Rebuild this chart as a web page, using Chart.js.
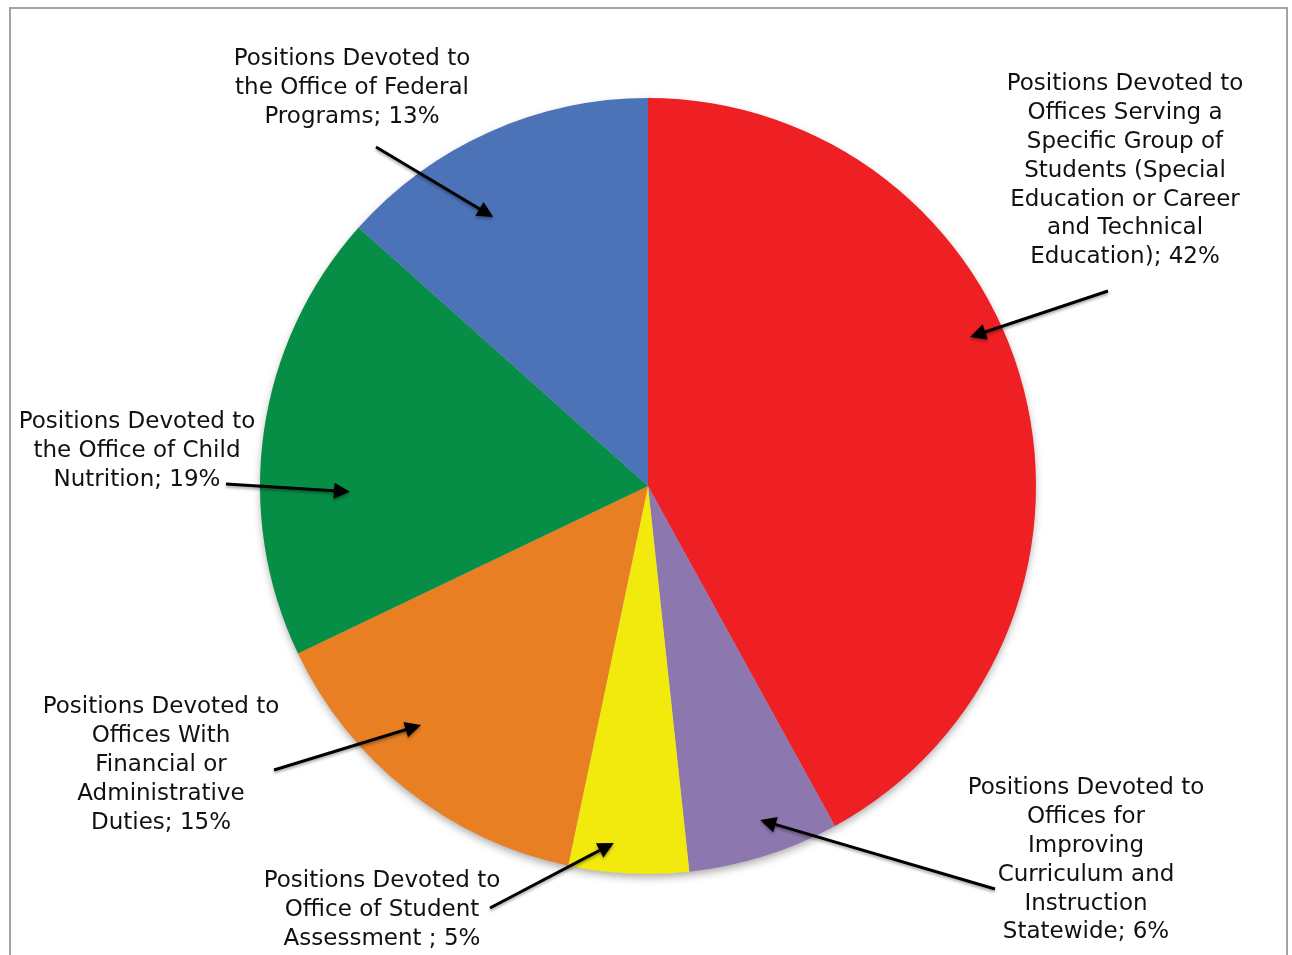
<!DOCTYPE html>
<html lang="en">
<head>
<meta charset="UTF-8">
<title>Positions by Office</title>
<script src="https://cdn.jsdelivr.net/npm/chart.js"></script>
<style>
    html, body { margin: 0; padding: 0; background: #fff; overflow: hidden; }
    #wrap { position: relative; width: 1292px; height: 955px; }
    #frame {
        position: absolute; left: 9px; top: 7px; width: 1279px; height: 1000px;
        border: 2px solid #a3a3a3; box-sizing: border-box; pointer-events: none;
    }
    canvas { position: absolute; left: 0; top: 0; }
</style>
</head>
<body>
<div id="wrap">
    <canvas id="pie" width="1292" height="955"></canvas>
    <div id="frame"></div>
</div>
<script>
// slice data, clockwise from 12 o'clock
const sliceLabels = [
    ['Positions Devoted to', 'Offices Serving a', 'Specific Group of', 'Students (Special', 'Education or Career', 'and Technical', 'Education); 42%'],
    ['Positions Devoted to', 'Offices for', 'Improving', 'Curriculum and', 'Instruction', 'Statewide; 6%'],
    ['Positions Devoted to', 'Office of Student', 'Assessment ; 5%'],
    ['Positions Devoted to', 'Offices With', 'Financial or', 'Administrative', 'Duties; 15%'],
    ['Positions Devoted to', 'the Office of Child', 'Nutrition; 19%'],
    ['Positions Devoted to', 'the Office of Federal', 'Programs; 13%']
];
// shares as drawn (labels carry the rounded figures)
const shares = [42.0, 6.3, 5.0, 14.6, 18.7, 13.4];
const sliceColors = ['#ee2024', '#8d77af', '#f2ea0c', '#e97f23', '#078e46', '#4c72b8'];

// where each callout sits: text centre (x, first line y), arrow tail,
// arrow tip as a fraction of the radius from the pie centre
const callouts = [
    { tx: 1125, ty: 82,  tail: [1108, 291], tip: [0.830, -0.384] },
    { tx: 1086, ty: 786, tail: [995, 889],  tip: [0.289, 0.861] },
    { tx: 382,  ty: 879, tail: [490, 908],  tip: [-0.088, 0.920] },
    { tx: 161,  ty: 705, tail: [274, 770],  tip: [-0.585, 0.616] },
    { tx: 137,  ty: 420, tail: [226, 484],  tip: [-0.768, 0.015] },
    { tx: 352,  ty: 57,  tail: [376, 147],  tip: [-0.399, -0.693] }
];

const FONT = '23px "DejaVu Sans", sans-serif';
const LINE_H = 28.9;

const pieShadow = {
    id: 'pieShadow',
    beforeDatasetsDraw(chart) {
        const arc = chart.getDatasetMeta(0).data[0];
        if (!arc) return;
        const ctx = chart.ctx;
        ctx.save();
        ctx.shadowColor = 'rgba(0,0,0,0.35)';
        ctx.shadowBlur = 8;
        ctx.shadowOffsetY = 4;
        ctx.fillStyle = '#bbb';
        ctx.beginPath();
        ctx.arc(arc.x, arc.y, arc.outerRadius - 1, 0, Math.PI * 2);
        ctx.fill();
        ctx.restore();
    }
};

const callout = {
    id: 'callout',
    afterDatasetsDraw(chart) {
        const ctx = chart.ctx;
        const arcs = chart.getDatasetMeta(0).data;
        const cx = arcs[0].x, cy = arcs[0].y, r = arcs[0].outerRadius;
        ctx.save();
        ctx.font = FONT;
        ctx.fillStyle = '#111';
        ctx.textAlign = 'center';
        ctx.textBaseline = 'middle';
        sliceLabels.forEach((lines, i) => {
            const c = callouts[i];
            lines.forEach((ln, k) => ctx.fillText(ln, c.tx, c.ty + 2 + k * LINE_H));

            const hx = cx + c.tip[0] * r, hy = cy + c.tip[1] * r;
            const [sx, sy] = c.tail;
            const a = Math.atan2(hy - sy, hx - sx);
            const len = 16, half = 8;
            ctx.save();
            ctx.shadowColor = 'rgba(0,0,0,0.35)';
            ctx.shadowBlur = 3;
            ctx.shadowOffsetY = 2;
            ctx.strokeStyle = '#000';
            ctx.lineWidth = 3;
            ctx.beginPath();
            ctx.moveTo(sx, sy);
            ctx.lineTo(hx - Math.cos(a) * len * 0.8, hy - Math.sin(a) * len * 0.8);
            ctx.stroke();
            ctx.fillStyle = '#000';
            ctx.beginPath();
            ctx.moveTo(hx, hy);
            ctx.lineTo(hx - Math.cos(a) * len - Math.sin(a) * half, hy - Math.sin(a) * len + Math.cos(a) * half);
            ctx.lineTo(hx - Math.cos(a) * len + Math.sin(a) * half, hy - Math.sin(a) * len - Math.cos(a) * half);
            ctx.closePath();
            ctx.fill();
            ctx.restore();
        });
        ctx.restore();
    }
};

new Chart(document.getElementById('pie'), {
    type: 'pie',
    data: {
        labels: sliceLabels.map(l => l.join(' ')),
        datasets: [{
            data: shares,
            backgroundColor: sliceColors,
            borderWidth: 0
        }]
    },
    options: {
        responsive: false,
        animation: false,
        layout: { padding: { left: 260, right: 256, top: 98, bottom: 81 } },
        plugins: {
            legend: { display: false },
            tooltip: { enabled: false }
        }
    },
    plugins: [pieShadow, callout]
});
</script>
</body>
</html>
